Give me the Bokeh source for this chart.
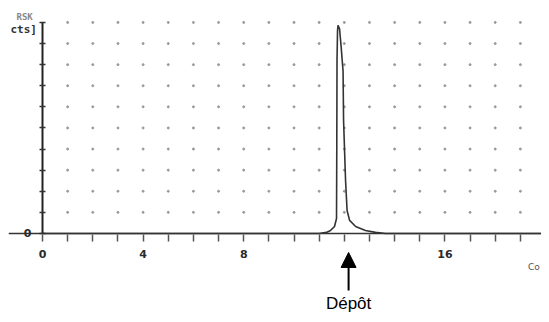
from bokeh.plotting import figure
from bokeh.models import FixedTicker, Label, Arrow, NormalHead
from bokeh.embed import file_html
from bokeh.resources import INLINE

# chromatogram trace (x in cm / time units, y in %)
trace_x = [0.0, 11.0, 11.29, 11.45, 11.61, 11.69, 11.70, 11.71, 11.73, 11.75, 11.81,
           11.87, 11.95, 11.97, 12.05, 12.11, 12.21, 12.45, 12.84, 13.24, 13.64, 20.0]
trace_y = [0.0, 0.0, 0.5, 1.4, 3.3, 7.1, 39.0, 82.0, 96.0, 98.6, 97.0,
           89.0, 77.0, 53.6, 25.0, 10.9, 6.2, 3.3, 1.4, 0.5, 0.0, 0.0]

x_ticks = list(range(0, 21))
x_tick_labels = {0: "0", 4: "4", 8: "8", 16: "16", 20: "20"}
y_ticks = list(range(0, 101, 10))
y_tick_labels = {0: "0"}

deposit_x = 12.17
deposit_label = "Dépôt"

p = figure(width=541, height=314, output_backend="svg", toolbar_location=None,
           x_range=(-1.352, 19.84), y_range=(-38.4, 106.6),
           min_border_left=8, min_border_right=0, min_border_top=8, min_border_bottom=0)
p.outline_line_color = None
p.grid.visible = False
p.background_fill_color = "white"

# dotted grid
gx, gy = [], []
for xv in x_ticks[1:]:
    for yv in y_ticks[1:]:
        gx.append(xv)
        gy.append(yv)
p.scatter(gx, gy, size=2.0, color="#999999", marker="circle")

# axes
p.xaxis.fixed_location = 0
p.yaxis.fixed_location = 0
p.xaxis.ticker = FixedTicker(ticks=x_ticks)
p.yaxis.ticker = FixedTicker(ticks=y_ticks)
p.xaxis.major_label_overrides = {t: x_tick_labels.get(t, "") for t in x_ticks}
p.yaxis.major_label_overrides = {t: y_tick_labels.get(t, "") for t in y_ticks}
p.axis.minor_tick_line_color = None
p.axis.major_label_text_font = "DejaVu Sans"
p.axis.major_label_text_font_style = "bold"
p.axis.major_label_text_font_size = "11px"
p.axis.major_label_text_color = "#2a2a2a"
p.xaxis.axis_line_color = "#333333"
p.xaxis.axis_line_width = 1.6
p.xaxis.major_tick_in = 0
p.xaxis.major_tick_out = 15
p.xaxis.major_tick_line_dash = "0 7 7 20"
p.xaxis.major_tick_line_color = "#555555"
p.xaxis.major_tick_line_width = 1.5
p.xaxis.major_label_standoff = 2
p.yaxis.axis_line_color = None
p.yaxis.major_tick_in = 3
p.yaxis.major_tick_out = 3
p.yaxis.major_tick_line_color = "#333333"
p.yaxis.major_tick_line_width = 1.3
p.yaxis.major_label_standoff = 8

# y axis line only from 0 to 100
p.segment(x0=[0], y0=[0], x1=[0], y1=[y_ticks[-1]], line_color="#222222", line_width=2)

# trace
p.line(trace_x, trace_y, line_color="#333333", line_width=1.6)

# unit labels
p.add_layout(Label(x=-1.352, y=96.5, x_offset=2, text="cts]", text_font="DejaVu Sans Mono",
                   text_font_style="bold", text_font_size="11px", text_color="#333333",
                   text_baseline="middle"))
p.add_layout(Label(x=-1.352, y=102.5, x_offset=8, text="RSK", text_font="DejaVu Sans Mono",
                   text_font_style="bold", text_font_size="9px", text_color="#888888",
                   text_baseline="middle"))
p.add_layout(Label(x=19.3, y=-16.0, text="Co", text_font="DejaVu Sans",
                   text_font_size="9px", text_color="#555555", text_baseline="middle"))

# deposit arrow and label
p.add_layout(Arrow(end=NormalHead(size=15, fill_color="black", line_color="black"),
                   x_start=deposit_x, y_start=-27.0, x_end=deposit_x, y_end=-9.0,
                   line_color="black", line_width=2))
p.add_layout(Label(x=deposit_x, y=-33.3, text=deposit_label, text_align="center",
                   text_baseline="middle", text_font="Liberation Sans",
                   text_font_size="17px", text_color="black"))

open("out.html", "w").write(file_html(p, INLINE))
